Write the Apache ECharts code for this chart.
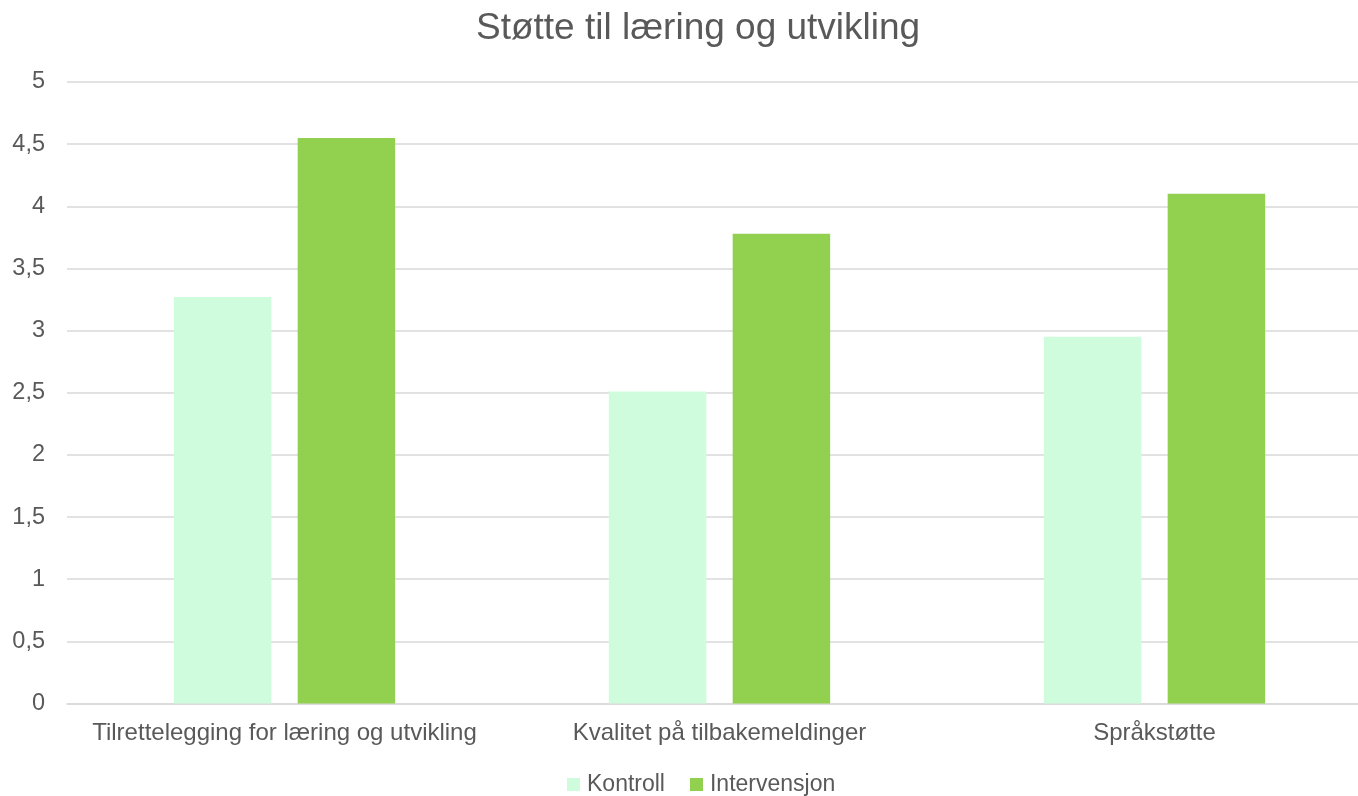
<!DOCTYPE html>
<html>
<head>
<meta charset="utf-8">
<script src="https://cdn.jsdelivr.net/npm/echarts@6/dist/echarts.min.js"></script>
<style>html,body{margin:0;padding:0;background:#fff;overflow:hidden;width:1358px;height:796px}#c{width:1372px;height:796px}</style>
</head>
<body>
<div id="c"></div>
<script>
const categories = ['Tilrettelegging for læring og utvikling', 'Kvalitet på tilbakemeldinger', 'Språkstøtte'];
const kontroll = [3.27, 2.51, 2.95];
const intervensjon = [4.55, 3.78, 4.10];
const yTicks = [0, 0.5, 1, 1.5, 2, 2.5, 3, 3.5, 4, 4.5, 5];

const chart = echarts.init(document.getElementById('c'));
const font = 'Liberation Sans, Arial, sans-serif';
chart.setOption({
  animation: false,
  title: {
    text: 'Støtte til læring og utvikling',
    left: 471, top: 5,
    textStyle: { fontFamily: font, fontSize: 37, fontWeight: 'normal', color: '#595959' }
  },
  legend: {
    top: 768, left: 562,
    itemWidth: 13, itemHeight: 13, itemGap: 25,
    icon: 'rect',
    textStyle: { fontFamily: font, fontSize: 23, color: '#595959', padding: [0, 0, 0, 2] },
    data: ['Kontroll', 'Intervensjon']
  },
  grid: { left: 67, top: 82, width: 1305, height: 621.5 },
  xAxis: {
    type: 'category',
    data: categories,
    axisLine: { lineStyle: { color: '#d9d9d9', width: 1.5 } },
    axisTick: { show: false },
    axisLabel: { fontFamily: font, fontSize: 24, color: '#595959', margin: 18, interval: 0 }
  },
  yAxis: {
    type: 'value', min: 0, max: 5, interval: 0.5,
    axisLine: { show: false }, axisTick: { show: false },
    splitLine: { lineStyle: { color: '#d9d9d9', width: 1.5 } },
    axisLabel: {
      fontFamily: font, fontSize: 23.5, color: '#595959', margin: 22,
      formatter: v => String(v).replace('.', ',')
    }
  },
  series: [
    { name: 'Kontroll', type: 'bar', data: kontroll, barWidth: 97.5, barGap: '27%',
      itemStyle: { color: '#cffcdc' } },
    { name: 'Intervensjon', type: 'bar', data: intervensjon, barWidth: 97.5, barGap: '27%',
      itemStyle: { color: '#92d050' } }
  ]
});
</script>
</body>
</html>
